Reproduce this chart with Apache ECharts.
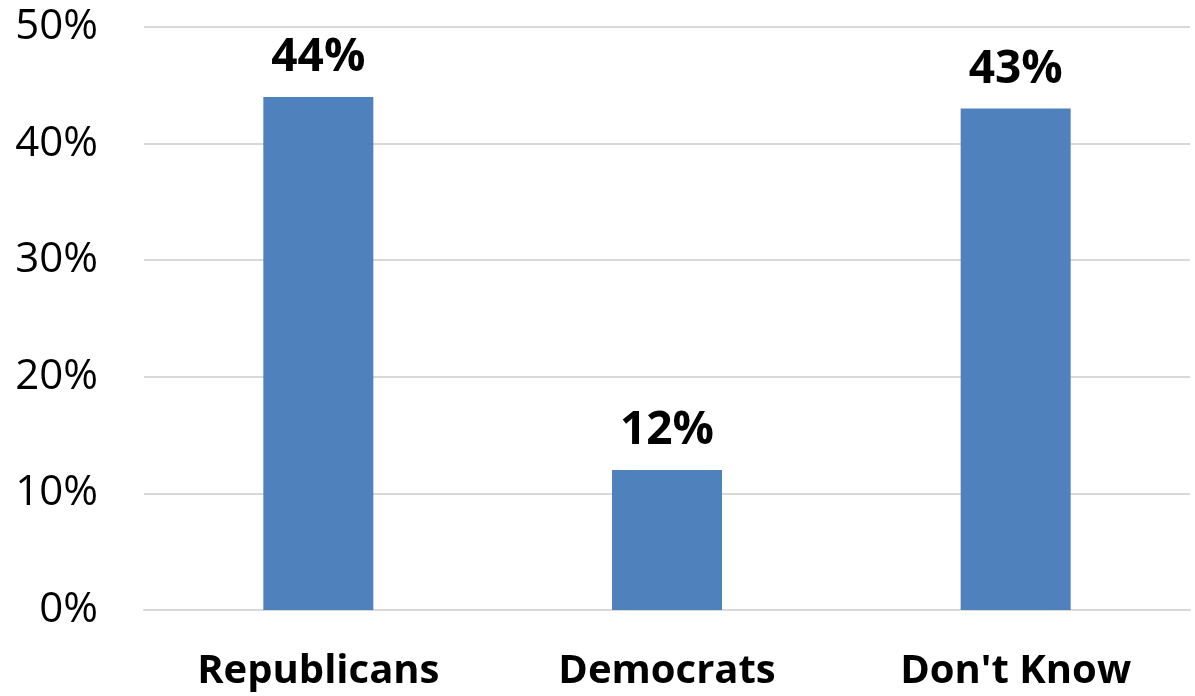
<!DOCTYPE html>
<html>
<head>
<meta charset="utf-8">
<script src="https://cdn.jsdelivr.net/npm/echarts@6/dist/echarts.min.js"></script>
<style>
html,body{margin:0;padding:0;background:#fff;}
#chart{width:1195px;height:696px;}
</style>
</head>
<body>
<div id="chart"></div>
<script>
const categories = ["Republicans", "Democrats", "Don't Know"];
const values = [44, 12, 43];
const yTicks = [0, 10, 20, 30, 40, 50];

const FONT = "'Open Sans', 'Noto Sans', sans-serif";
const chart = echarts.init(document.getElementById('chart'), null, {renderer: 'canvas'});
chart.setOption({
  animation: false,
  backgroundColor: '#ffffff',
  grid: {left: 144, right: 5, top: 27, bottom: 86, containLabel: false},
  xAxis: {
    type: 'category',
    data: categories,
    axisLine: {show: true, lineStyle: {color: '#d9d9d9', width: 2}},
    axisTick: {show: false},
    axisLabel: {
      color: '#000', fontFamily: FONT, fontWeight: 'bold', fontSize: 40, margin: 42
    }
  },
  yAxis: {
    type: 'value',
    min: yTicks[0],
    max: yTicks[yTicks.length - 1],
    interval: 10,
    axisLine: {show: false},
    axisTick: {show: false},
    splitLine: {lineStyle: {color: '#d9d9d9', width: 2}},
    axisLabel: {
      color: '#000', fontFamily: FONT, fontSize: 42, margin: 46,
      formatter: v => v + '%'
    }
  },
  series: [{
    type: 'bar',
    data: values,
    barWidth: 110,
    itemStyle: {color: '#4f81bd'},
    label: {
      show: true, position: 'top', distance: 16,
      color: '#000', fontFamily: FONT, fontWeight: 'bold', fontSize: 46,
      formatter: p => p.value + '%'
    }
  }]
});
</script>
</body>
</html>
